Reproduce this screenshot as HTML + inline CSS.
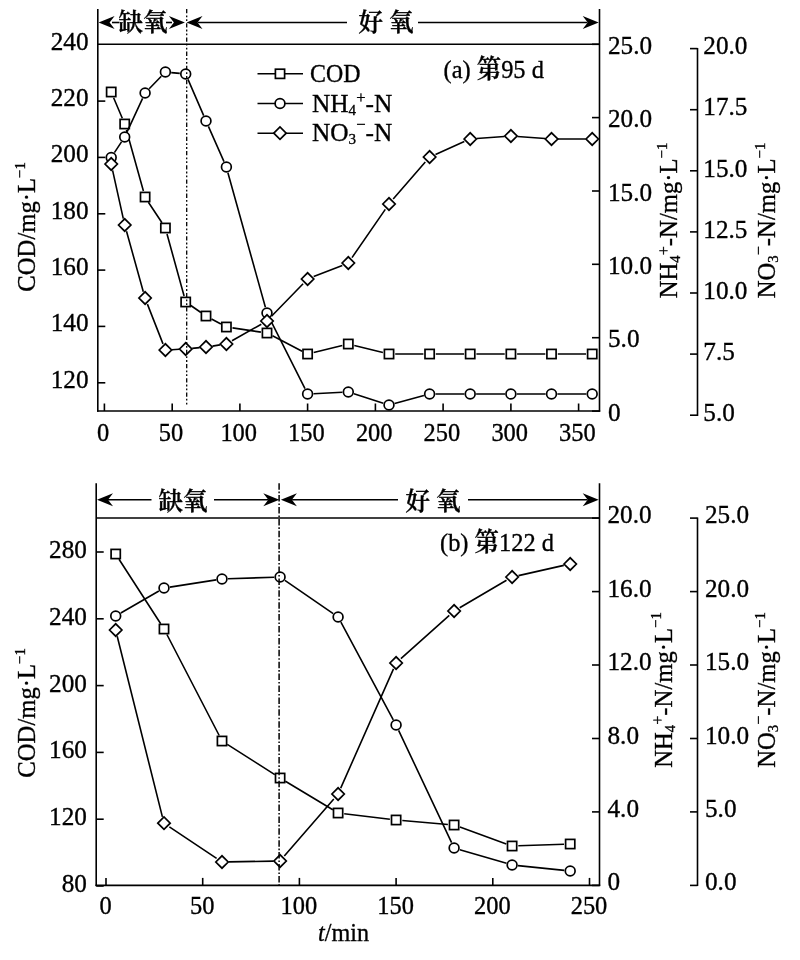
<!DOCTYPE html>
<html lang="zh">
<head>
<meta charset="utf-8">
<title>COD, NH4+-N, NO3--N</title>
<style>
html,body{margin:0;padding:0;background:#fff;}
body{width:800px;height:960px;overflow:hidden;}
svg{display:block;}
text{font-family:"Liberation Serif","Noto Serif CJK SC",serif;fill:#000;stroke:#000;stroke-width:0.35px;}
.cjk{font-family:"Noto Serif CJK SC","Liberation Serif",serif;font-weight:600;}
</style>
</head>
<body>
<svg width="800" height="960" viewBox="0 0 800 960">
<rect width="800" height="960" fill="#fff"/>

<line x1="97.8" y1="9.0" x2="97.8" y2="411.8" stroke="#000" stroke-width="1.6" />
<line x1="599.5" y1="9.0" x2="599.5" y2="411.8" stroke="#000" stroke-width="1.6" />
<line x1="97.0" y1="411.0" x2="600.2" y2="411.0" stroke="#000" stroke-width="1.6" />
<line x1="97.8" y1="44.3" x2="599.5" y2="44.3" stroke="#000" stroke-width="1.6" />
<line x1="697.5" y1="47.9" x2="697.5" y2="416.0" stroke="#000" stroke-width="1.6" />
<line x1="104.4" y1="411.0" x2="104.4" y2="403.5" stroke="#000" stroke-width="1.6" />
<text transform="translate(103.2,441.0) scale(0.94,1)" text-anchor="middle" font-size="26" >0</text>
<line x1="172.2" y1="411.0" x2="172.2" y2="403.5" stroke="#000" stroke-width="1.6" />
<text transform="translate(171.0,441.0) scale(0.94,1)" text-anchor="middle" font-size="26" >50</text>
<line x1="239.9" y1="411.0" x2="239.9" y2="403.5" stroke="#000" stroke-width="1.6" />
<text transform="translate(238.7,441.0) scale(0.94,1)" text-anchor="middle" font-size="26" >100</text>
<line x1="307.6" y1="411.0" x2="307.6" y2="403.5" stroke="#000" stroke-width="1.6" />
<text transform="translate(306.4,441.0) scale(0.94,1)" text-anchor="middle" font-size="26" >150</text>
<line x1="375.4" y1="411.0" x2="375.4" y2="403.5" stroke="#000" stroke-width="1.6" />
<text transform="translate(374.2,441.0) scale(0.94,1)" text-anchor="middle" font-size="26" >200</text>
<line x1="443.1" y1="411.0" x2="443.1" y2="403.5" stroke="#000" stroke-width="1.6" />
<text transform="translate(441.9,441.0) scale(0.94,1)" text-anchor="middle" font-size="26" >250</text>
<line x1="510.9" y1="411.0" x2="510.9" y2="403.5" stroke="#000" stroke-width="1.6" />
<text transform="translate(509.7,441.0) scale(0.94,1)" text-anchor="middle" font-size="26" >300</text>
<line x1="578.6" y1="411.0" x2="578.6" y2="403.5" stroke="#000" stroke-width="1.6" />
<text transform="translate(577.4,441.0) scale(0.94,1)" text-anchor="middle" font-size="26" >350</text>
<line x1="97.8" y1="101.1" x2="105.3" y2="101.1" stroke="#000" stroke-width="1.6" />
<text transform="translate(88.5,106.1) scale(0.97,1)" text-anchor="end" font-size="26" >220</text>
<line x1="97.8" y1="157.4" x2="105.3" y2="157.4" stroke="#000" stroke-width="1.6" />
<text transform="translate(88.5,162.4) scale(0.97,1)" text-anchor="end" font-size="26" >200</text>
<line x1="97.8" y1="213.8" x2="105.3" y2="213.8" stroke="#000" stroke-width="1.6" />
<text transform="translate(88.5,218.8) scale(0.97,1)" text-anchor="end" font-size="26" >180</text>
<line x1="97.8" y1="270.1" x2="105.3" y2="270.1" stroke="#000" stroke-width="1.6" />
<text transform="translate(88.5,275.1) scale(0.97,1)" text-anchor="end" font-size="26" >160</text>
<line x1="97.8" y1="326.4" x2="105.3" y2="326.4" stroke="#000" stroke-width="1.6" />
<text transform="translate(88.5,331.4) scale(0.97,1)" text-anchor="end" font-size="26" >140</text>
<line x1="97.8" y1="382.8" x2="105.3" y2="382.8" stroke="#000" stroke-width="1.6" />
<text transform="translate(88.5,387.8) scale(0.97,1)" text-anchor="end" font-size="26" >120</text>
<line x1="599.5" y1="44.3" x2="592.0" y2="44.3" stroke="#000" stroke-width="1.6" />
<text transform="translate(608.0,54.0) scale(0.97,1)" text-anchor="start" font-size="26" >25.0</text>
<line x1="599.5" y1="117.6" x2="592.0" y2="117.6" stroke="#000" stroke-width="1.6" />
<text transform="translate(608.0,127.3) scale(0.97,1)" text-anchor="start" font-size="26" >20.0</text>
<line x1="599.5" y1="191.0" x2="592.0" y2="191.0" stroke="#000" stroke-width="1.6" />
<text transform="translate(608.0,200.7) scale(0.97,1)" text-anchor="start" font-size="26" >15.0</text>
<line x1="599.5" y1="264.3" x2="592.0" y2="264.3" stroke="#000" stroke-width="1.6" />
<text transform="translate(608.0,274.0) scale(0.97,1)" text-anchor="start" font-size="26" >10.0</text>
<line x1="599.5" y1="337.7" x2="592.0" y2="337.7" stroke="#000" stroke-width="1.6" />
<text transform="translate(608.0,347.4) scale(0.97,1)" text-anchor="start" font-size="26" >5.0</text>
<line x1="599.5" y1="411.1" x2="592.0" y2="411.1" stroke="#000" stroke-width="1.6" />
<text transform="translate(608.0,420.8) scale(0.97,1)" text-anchor="start" font-size="26" >0</text>
<line x1="697.5" y1="48.6" x2="690.0" y2="48.6" stroke="#000" stroke-width="1.6" />
<text transform="translate(703.3,54.3) scale(0.97,1)" text-anchor="start" font-size="26" >20.0</text>
<line x1="697.5" y1="109.7" x2="690.0" y2="109.7" stroke="#000" stroke-width="1.6" />
<text transform="translate(703.3,115.4) scale(0.97,1)" text-anchor="start" font-size="26" >17.5</text>
<line x1="697.5" y1="170.8" x2="690.0" y2="170.8" stroke="#000" stroke-width="1.6" />
<text transform="translate(703.3,176.5) scale(0.97,1)" text-anchor="start" font-size="26" >15.0</text>
<line x1="697.5" y1="231.9" x2="690.0" y2="231.9" stroke="#000" stroke-width="1.6" />
<text transform="translate(703.3,237.6) scale(0.97,1)" text-anchor="start" font-size="26" >12.5</text>
<line x1="697.5" y1="293.0" x2="690.0" y2="293.0" stroke="#000" stroke-width="1.6" />
<text transform="translate(703.3,298.7) scale(0.97,1)" text-anchor="start" font-size="26" >10.0</text>
<line x1="697.5" y1="354.1" x2="690.0" y2="354.1" stroke="#000" stroke-width="1.6" />
<text transform="translate(703.3,359.8) scale(0.97,1)" text-anchor="start" font-size="26" >7.5</text>
<line x1="697.5" y1="415.2" x2="690.0" y2="415.2" stroke="#000" stroke-width="1.6" />
<text transform="translate(703.3,420.9) scale(0.97,1)" text-anchor="start" font-size="26" >5.0</text>
<path d="M113.6,97.7L122.3,118.3M126.4,130.0L143.4,191.0M148.4,202.2L162.0,222.8M167.0,234.0L184.1,296.0M190.8,305.5L200.9,312.5M211.5,319.0L220.9,324.0M232.5,327.9L260.9,332.1M272.5,335.8L302.1,351.2M313.7,352.5L342.3,345.5M354.3,345.5L382.9,352.5M395.2,354.0L423.4,354.0M435.8,354.0L464.1,354.0M476.4,354.0L504.7,354.0M517.1,354.0L545.3,354.0M557.8,354.0L586.0,354.0" fill="none" stroke="#000" stroke-width="1.6"/>
<rect x="106.6" y="87.4" width="9.2" height="9.2" fill="#fff" stroke="#000" stroke-width="1.7"/>
<rect x="120.1" y="119.4" width="9.2" height="9.2" fill="#fff" stroke="#000" stroke-width="1.7"/>
<rect x="140.5" y="192.4" width="9.2" height="9.2" fill="#fff" stroke="#000" stroke-width="1.7"/>
<rect x="160.8" y="223.4" width="9.2" height="9.2" fill="#fff" stroke="#000" stroke-width="1.7"/>
<rect x="181.1" y="297.4" width="9.2" height="9.2" fill="#fff" stroke="#000" stroke-width="1.7"/>
<rect x="201.4" y="311.4" width="9.2" height="9.2" fill="#fff" stroke="#000" stroke-width="1.7"/>
<rect x="221.8" y="322.4" width="9.2" height="9.2" fill="#fff" stroke="#000" stroke-width="1.7"/>
<rect x="262.4" y="328.4" width="9.2" height="9.2" fill="#fff" stroke="#000" stroke-width="1.7"/>
<rect x="303.0" y="349.4" width="9.2" height="9.2" fill="#fff" stroke="#000" stroke-width="1.7"/>
<rect x="343.7" y="339.4" width="9.2" height="9.2" fill="#fff" stroke="#000" stroke-width="1.7"/>
<rect x="384.4" y="349.4" width="9.2" height="9.2" fill="#fff" stroke="#000" stroke-width="1.7"/>
<rect x="425.0" y="349.4" width="9.2" height="9.2" fill="#fff" stroke="#000" stroke-width="1.7"/>
<rect x="465.6" y="349.4" width="9.2" height="9.2" fill="#fff" stroke="#000" stroke-width="1.7"/>
<rect x="506.3" y="349.4" width="9.2" height="9.2" fill="#fff" stroke="#000" stroke-width="1.7"/>
<rect x="546.9" y="349.4" width="9.2" height="9.2" fill="#fff" stroke="#000" stroke-width="1.7"/>
<rect x="587.6" y="349.4" width="9.2" height="9.2" fill="#fff" stroke="#000" stroke-width="1.7"/>
<path d="M114.4,152.6L121.5,141.9M127.2,131.6L142.6,98.4M149.2,88.8L161.3,76.2M171.2,72.6L179.8,73.4M188.0,79.4L203.7,115.6M208.4,126.4L224.0,161.6M227.9,172.7L265.4,307.3M269.6,318.3L305.0,388.7M313.5,393.7L342.4,392.3M353.9,393.8L383.3,403.2M394.6,403.5L423.9,395.5M435.5,394.0L464.4,394.0M476.1,394.0L505.0,394.0M516.8,394.0L545.6,394.0M557.4,394.0L586.3,394.0" fill="none" stroke="#000" stroke-width="1.6"/>
<circle cx="111.2" cy="157.5" r="4.9" fill="#fff" stroke="#000" stroke-width="1.7"/>
<circle cx="124.7" cy="137.0" r="4.9" fill="#fff" stroke="#000" stroke-width="1.7"/>
<circle cx="145.1" cy="93.0" r="4.9" fill="#fff" stroke="#000" stroke-width="1.7"/>
<circle cx="165.4" cy="72.0" r="4.9" fill="#fff" stroke="#000" stroke-width="1.7"/>
<circle cx="185.7" cy="74.0" r="4.9" fill="#fff" stroke="#000" stroke-width="1.7"/>
<circle cx="206.0" cy="121.0" r="4.9" fill="#fff" stroke="#000" stroke-width="1.7"/>
<circle cx="226.4" cy="167.0" r="4.9" fill="#fff" stroke="#000" stroke-width="1.7"/>
<circle cx="267.0" cy="313.0" r="4.9" fill="#fff" stroke="#000" stroke-width="1.7"/>
<circle cx="307.6" cy="394.0" r="4.9" fill="#fff" stroke="#000" stroke-width="1.7"/>
<circle cx="348.3" cy="392.0" r="4.9" fill="#fff" stroke="#000" stroke-width="1.7"/>
<circle cx="389.0" cy="405.0" r="4.9" fill="#fff" stroke="#000" stroke-width="1.7"/>
<circle cx="429.6" cy="394.0" r="4.9" fill="#fff" stroke="#000" stroke-width="1.7"/>
<circle cx="470.2" cy="394.0" r="4.9" fill="#fff" stroke="#000" stroke-width="1.7"/>
<circle cx="510.9" cy="394.0" r="4.9" fill="#fff" stroke="#000" stroke-width="1.7"/>
<circle cx="551.5" cy="394.0" r="4.9" fill="#fff" stroke="#000" stroke-width="1.7"/>
<circle cx="592.2" cy="394.0" r="4.9" fill="#fff" stroke="#000" stroke-width="1.7"/>
<path d="M112.6,170.3L123.3,218.7M126.5,231.3L143.3,291.7M147.4,304.1L163.0,343.9M171.9,349.7L179.2,349.3M192.2,348.4L199.6,347.6M212.5,346.1L219.9,344.9M232.0,340.8L261.3,324.2M271.5,316.3L303.1,283.7M313.7,276.6L342.3,265.4M352.0,257.6L385.3,209.4M393.2,199.1L425.3,161.9M435.5,154.4L464.3,141.6M476.7,138.5L504.4,136.5M517.4,136.5L545.1,138.5M558.0,139.0L585.7,139.0" fill="none" stroke="#000" stroke-width="1.6"/>
<path d="M105.0,164.0 L111.2,157.8 L117.4,164.0 L111.2,170.2 Z" fill="#fff" stroke="#000" stroke-width="1.7"/>
<path d="M118.5,225.0 L124.7,218.8 L130.9,225.0 L124.7,231.2 Z" fill="#fff" stroke="#000" stroke-width="1.7"/>
<path d="M138.9,298.0 L145.1,291.8 L151.2,298.0 L145.1,304.2 Z" fill="#fff" stroke="#000" stroke-width="1.7"/>
<path d="M159.2,350.0 L165.4,343.8 L171.6,350.0 L165.4,356.2 Z" fill="#fff" stroke="#000" stroke-width="1.7"/>
<path d="M179.5,349.0 L185.7,342.8 L191.9,349.0 L185.7,355.2 Z" fill="#fff" stroke="#000" stroke-width="1.7"/>
<path d="M199.8,347.0 L206.0,340.8 L212.2,347.0 L206.0,353.2 Z" fill="#fff" stroke="#000" stroke-width="1.7"/>
<path d="M220.2,344.0 L226.4,337.8 L232.6,344.0 L226.4,350.2 Z" fill="#fff" stroke="#000" stroke-width="1.7"/>
<path d="M260.8,321.0 L267.0,314.8 L273.2,321.0 L267.0,327.2 Z" fill="#fff" stroke="#000" stroke-width="1.7"/>
<path d="M301.4,279.0 L307.6,272.8 L313.8,279.0 L307.6,285.2 Z" fill="#fff" stroke="#000" stroke-width="1.7"/>
<path d="M342.1,263.0 L348.3,256.8 L354.5,263.0 L348.3,269.2 Z" fill="#fff" stroke="#000" stroke-width="1.7"/>
<path d="M382.8,204.0 L389.0,197.8 L395.2,204.0 L389.0,210.2 Z" fill="#fff" stroke="#000" stroke-width="1.7"/>
<path d="M423.4,157.0 L429.6,150.8 L435.8,157.0 L429.6,163.2 Z" fill="#fff" stroke="#000" stroke-width="1.7"/>
<path d="M464.1,139.0 L470.2,132.8 L476.4,139.0 L470.2,145.2 Z" fill="#fff" stroke="#000" stroke-width="1.7"/>
<path d="M504.7,136.0 L510.9,129.8 L517.1,136.0 L510.9,142.2 Z" fill="#fff" stroke="#000" stroke-width="1.7"/>
<path d="M545.3,139.0 L551.5,132.8 L557.8,139.0 L551.5,145.2 Z" fill="#fff" stroke="#000" stroke-width="1.7"/>
<path d="M586.0,139.0 L592.2,132.8 L598.4,139.0 L592.2,145.2 Z" fill="#fff" stroke="#000" stroke-width="1.7"/>
<line x1="186.7" y1="9.0" x2="186.7" y2="405.0" stroke="#000" stroke-width="1.3" stroke-dasharray="4.3 2.1 1.8 2.1 1.8 2.1"/>
<path d="M98.6,22.5 L114.6,16.0 L109.6,22.5 L114.6,29.0 Z" fill="#000"/>
<path d="M184.9,22.5 L168.9,16.0 L173.9,22.5 L168.9,29.0 Z" fill="#000"/>
<path d="M186.5,22.5 L202.5,16.0 L197.5,22.5 L202.5,29.0 Z" fill="#000"/>
<path d="M598.7,22.5 L582.7,16.0 L587.7,22.5 L582.7,29.0 Z" fill="#000"/>
<line x1="112.0" y1="22.5" x2="119.5" y2="22.5" stroke="#000" stroke-width="1.6" />
<line x1="166.0" y1="22.5" x2="172.0" y2="22.5" stroke="#000" stroke-width="1.6" />
<line x1="197.7" y1="22.5" x2="347.0" y2="22.5" stroke="#000" stroke-width="1.6" />
<line x1="418.0" y1="22.5" x2="587.5" y2="22.5" stroke="#000" stroke-width="1.6" />
<text transform="translate(143.0,30.5) scale(1,1)" text-anchor="middle" font-size="24.5" class="cjk">缺氧</text>
<text transform="translate(386.0,30.5) scale(1,1)" text-anchor="middle" font-size="24.5" class="cjk">好 氧</text>
<text transform="translate(443.5,78.0) scale(0.94,1)" text-anchor="start" font-size="26" >(a) <tspan class="cjk" font-weight="400">第</tspan>95 d</text>
<text transform="translate(35.0,227.0) rotate(-90) scale(0.95,1)" text-anchor="middle" font-size="26">COD/mg·L<tspan font-size="15.5" dy="-10.5">−1</tspan></text>
<text transform="translate(677.0,220.5) rotate(-90) scale(0.95,1)" text-anchor="middle" font-size="26">NH<tspan font-size="15.5" dy="3">4</tspan><tspan font-size="17" dy="-11.5">+</tspan><tspan dy="8.5">-N</tspan>/mg·L<tspan font-size="15.5" dy="-10.5">−1</tspan></text>
<text transform="translate(775.0,220.5) rotate(-90) scale(0.95,1)" text-anchor="middle" font-size="26">NO<tspan font-size="15.5" dy="3">3</tspan><tspan font-size="17" dy="-14.5">−</tspan><tspan dy="11.5">-N</tspan>/mg·L<tspan font-size="15.5" dy="-10.5">−1</tspan></text>
<text transform="translate(88.5,49.6) scale(0.97,1)" text-anchor="end" font-size="26" >240</text>
<line x1="257.5" y1="73.8" x2="303.0" y2="73.8" stroke="#000" stroke-width="1.6" />
<rect x="275.4" y="69.2" width="9.2" height="9.2" fill="#fff" stroke="#000" stroke-width="1.7"/>
<text transform="translate(310.0,81.8) scale(0.92,1)" text-anchor="start" font-size="26" >COD</text>
<line x1="257.5" y1="103.5" x2="303.0" y2="103.5" stroke="#000" stroke-width="1.6" />
<circle cx="280.0" cy="103.5" r="4.9" fill="#fff" stroke="#000" stroke-width="1.7"/>
<text transform="translate(312.0,111.5) scale(0.975,1)" text-anchor="start" font-size="26" >NH<tspan font-size="15.5" dy="3">4</tspan><tspan font-size="17" dy="-11.5">+</tspan><tspan dy="8.5">-N</tspan></text>
<line x1="257.5" y1="133.2" x2="303.0" y2="133.2" stroke="#000" stroke-width="1.6" />
<path d="M273.8,133.2 L280.0,127.0 L286.2,133.2 L280.0,139.4 Z" fill="#fff" stroke="#000" stroke-width="1.7"/>
<text transform="translate(312.0,141.2) scale(0.975,1)" text-anchor="start" font-size="26" >NO<tspan font-size="15.5" dy="3">3</tspan><tspan font-size="17" dy="-14.5">−</tspan><tspan dy="11.5">-N</tspan></text>
<line x1="96.2" y1="483.2" x2="96.2" y2="886.1" stroke="#000" stroke-width="1.6" />
<line x1="599.5" y1="483.2" x2="599.5" y2="886.1" stroke="#000" stroke-width="1.6" />
<line x1="95.5" y1="885.4" x2="600.2" y2="885.4" stroke="#000" stroke-width="1.6" />
<line x1="96.2" y1="518.0" x2="599.5" y2="518.0" stroke="#000" stroke-width="1.6" />
<line x1="697.5" y1="517.4" x2="697.5" y2="886.1" stroke="#000" stroke-width="1.6" />
<line x1="106.0" y1="885.4" x2="106.0" y2="877.9" stroke="#000" stroke-width="1.6" />
<text transform="translate(105.5,914.2) scale(0.94,1)" text-anchor="middle" font-size="26" >0</text>
<line x1="202.7" y1="885.4" x2="202.7" y2="877.9" stroke="#000" stroke-width="1.6" />
<text transform="translate(202.2,914.2) scale(0.94,1)" text-anchor="middle" font-size="26" >50</text>
<line x1="299.4" y1="885.4" x2="299.4" y2="877.9" stroke="#000" stroke-width="1.6" />
<text transform="translate(298.9,914.2) scale(0.94,1)" text-anchor="middle" font-size="26" >100</text>
<line x1="396.1" y1="885.4" x2="396.1" y2="877.9" stroke="#000" stroke-width="1.6" />
<text transform="translate(395.6,914.2) scale(0.94,1)" text-anchor="middle" font-size="26" >150</text>
<line x1="492.8" y1="885.4" x2="492.8" y2="877.9" stroke="#000" stroke-width="1.6" />
<text transform="translate(492.3,914.2) scale(0.94,1)" text-anchor="middle" font-size="26" >200</text>
<line x1="589.5" y1="885.4" x2="589.5" y2="877.9" stroke="#000" stroke-width="1.6" />
<text transform="translate(589.0,914.2) scale(0.94,1)" text-anchor="middle" font-size="26" >250</text>
<line x1="96.2" y1="552.0" x2="103.7" y2="552.0" stroke="#000" stroke-width="1.6" />
<text transform="translate(86.9,558.0) scale(0.97,1)" text-anchor="end" font-size="26" >280</text>
<line x1="96.2" y1="618.8" x2="103.7" y2="618.8" stroke="#000" stroke-width="1.6" />
<text transform="translate(86.9,624.8) scale(0.97,1)" text-anchor="end" font-size="26" >240</text>
<line x1="96.2" y1="685.6" x2="103.7" y2="685.6" stroke="#000" stroke-width="1.6" />
<text transform="translate(86.9,691.6) scale(0.97,1)" text-anchor="end" font-size="26" >200</text>
<line x1="96.2" y1="752.4" x2="103.7" y2="752.4" stroke="#000" stroke-width="1.6" />
<text transform="translate(86.9,758.4) scale(0.97,1)" text-anchor="end" font-size="26" >160</text>
<line x1="96.2" y1="819.2" x2="103.7" y2="819.2" stroke="#000" stroke-width="1.6" />
<text transform="translate(86.9,825.2) scale(0.97,1)" text-anchor="end" font-size="26" >120</text>
<line x1="96.2" y1="886.0" x2="103.7" y2="886.0" stroke="#000" stroke-width="1.6" />
<text transform="translate(86.9,892.0) scale(0.97,1)" text-anchor="end" font-size="26" >80</text>
<line x1="599.5" y1="518.1" x2="592.0" y2="518.1" stroke="#000" stroke-width="1.6" />
<text transform="translate(607.5,523.1) scale(0.97,1)" text-anchor="start" font-size="26" >20.0</text>
<line x1="599.5" y1="591.6" x2="592.0" y2="591.6" stroke="#000" stroke-width="1.6" />
<text transform="translate(607.5,596.6) scale(0.97,1)" text-anchor="start" font-size="26" >16.0</text>
<line x1="599.5" y1="665.0" x2="592.0" y2="665.0" stroke="#000" stroke-width="1.6" />
<text transform="translate(607.5,670.0) scale(0.97,1)" text-anchor="start" font-size="26" >12.0</text>
<line x1="599.5" y1="738.5" x2="592.0" y2="738.5" stroke="#000" stroke-width="1.6" />
<text transform="translate(607.5,743.5) scale(0.97,1)" text-anchor="start" font-size="26" >8.0</text>
<line x1="599.5" y1="811.9" x2="592.0" y2="811.9" stroke="#000" stroke-width="1.6" />
<text transform="translate(607.5,816.9) scale(0.97,1)" text-anchor="start" font-size="26" >4.0</text>
<line x1="599.5" y1="885.4" x2="592.0" y2="885.4" stroke="#000" stroke-width="1.6" />
<text transform="translate(607.5,890.4) scale(0.97,1)" text-anchor="start" font-size="26" >0</text>
<line x1="697.5" y1="518.1" x2="690.0" y2="518.1" stroke="#000" stroke-width="1.6" />
<text transform="translate(705.0,523.1) scale(0.97,1)" text-anchor="start" font-size="26" >25.0</text>
<line x1="697.5" y1="591.6" x2="690.0" y2="591.6" stroke="#000" stroke-width="1.6" />
<text transform="translate(705.0,596.6) scale(0.97,1)" text-anchor="start" font-size="26" >20.0</text>
<line x1="697.5" y1="665.0" x2="690.0" y2="665.0" stroke="#000" stroke-width="1.6" />
<text transform="translate(705.0,670.0) scale(0.97,1)" text-anchor="start" font-size="26" >15.0</text>
<line x1="697.5" y1="738.5" x2="690.0" y2="738.5" stroke="#000" stroke-width="1.6" />
<text transform="translate(705.0,743.5) scale(0.97,1)" text-anchor="start" font-size="26" >10.0</text>
<line x1="697.5" y1="811.9" x2="690.0" y2="811.9" stroke="#000" stroke-width="1.6" />
<text transform="translate(705.0,816.9) scale(0.97,1)" text-anchor="start" font-size="26" >5.0</text>
<line x1="697.5" y1="885.4" x2="690.0" y2="885.4" stroke="#000" stroke-width="1.6" />
<text transform="translate(705.0,890.4) scale(0.97,1)" text-anchor="start" font-size="26" >0.0</text>
<path d="M119.0,559.2L160.7,623.8M166.9,634.5L219.2,735.5M227.3,744.3L274.8,774.7M285.4,781.2L332.8,809.8M344.2,813.7L389.9,819.3M402.3,820.5L447.9,824.5M459.9,827.1L506.3,843.9M518.3,845.8L564.0,844.2" fill="none" stroke="#000" stroke-width="1.6"/>
<rect x="111.1" y="549.4" width="9.2" height="9.2" fill="#fff" stroke="#000" stroke-width="1.7"/>
<rect x="159.4" y="624.4" width="9.2" height="9.2" fill="#fff" stroke="#000" stroke-width="1.7"/>
<rect x="217.4" y="736.4" width="9.2" height="9.2" fill="#fff" stroke="#000" stroke-width="1.7"/>
<rect x="275.5" y="773.4" width="9.2" height="9.2" fill="#fff" stroke="#000" stroke-width="1.7"/>
<rect x="333.5" y="808.4" width="9.2" height="9.2" fill="#fff" stroke="#000" stroke-width="1.7"/>
<rect x="391.5" y="815.4" width="9.2" height="9.2" fill="#fff" stroke="#000" stroke-width="1.7"/>
<rect x="449.5" y="820.4" width="9.2" height="9.2" fill="#fff" stroke="#000" stroke-width="1.7"/>
<rect x="507.5" y="841.4" width="9.2" height="9.2" fill="#fff" stroke="#000" stroke-width="1.7"/>
<rect x="565.6" y="839.4" width="9.2" height="9.2" fill="#fff" stroke="#000" stroke-width="1.7"/>
<path d="M120.8,613.0L158.9,591.0M169.9,587.1L216.2,579.9M227.9,578.8L274.2,577.2M284.9,580.3L333.2,613.7M340.9,622.2L393.3,719.8M398.6,730.3L451.6,842.7M459.8,849.7L506.5,863.3M518.0,865.6L564.3,870.4" fill="none" stroke="#000" stroke-width="1.6"/>
<circle cx="115.7" cy="616.0" r="4.9" fill="#fff" stroke="#000" stroke-width="1.7"/>
<circle cx="164.0" cy="588.0" r="4.9" fill="#fff" stroke="#000" stroke-width="1.7"/>
<circle cx="222.0" cy="579.0" r="4.9" fill="#fff" stroke="#000" stroke-width="1.7"/>
<circle cx="280.1" cy="577.0" r="4.9" fill="#fff" stroke="#000" stroke-width="1.7"/>
<circle cx="338.1" cy="617.0" r="4.9" fill="#fff" stroke="#000" stroke-width="1.7"/>
<circle cx="396.1" cy="725.0" r="4.9" fill="#fff" stroke="#000" stroke-width="1.7"/>
<circle cx="454.1" cy="848.0" r="4.9" fill="#fff" stroke="#000" stroke-width="1.7"/>
<circle cx="512.1" cy="865.0" r="4.9" fill="#fff" stroke="#000" stroke-width="1.7"/>
<circle cx="570.2" cy="871.0" r="4.9" fill="#fff" stroke="#000" stroke-width="1.7"/>
<path d="M117.2,636.3L162.4,816.9M169.4,826.8L216.6,858.4M228.5,861.9L273.6,861.1M284.3,856.1L333.8,798.9M340.7,788.1L393.5,668.9M400.9,658.7L449.3,615.3M459.7,607.7L506.5,580.3M518.5,575.6L563.8,565.4" fill="none" stroke="#000" stroke-width="1.6"/>
<path d="M109.5,630.0 L115.7,623.8 L121.9,630.0 L115.7,636.2 Z" fill="#fff" stroke="#000" stroke-width="1.7"/>
<path d="M157.8,823.2 L164.0,817.0 L170.2,823.2 L164.0,829.4 Z" fill="#fff" stroke="#000" stroke-width="1.7"/>
<path d="M215.8,862.0 L222.0,855.8 L228.2,862.0 L222.0,868.2 Z" fill="#fff" stroke="#000" stroke-width="1.7"/>
<path d="M273.9,861.0 L280.1,854.8 L286.3,861.0 L280.1,867.2 Z" fill="#fff" stroke="#000" stroke-width="1.7"/>
<path d="M331.9,794.0 L338.1,787.8 L344.3,794.0 L338.1,800.2 Z" fill="#fff" stroke="#000" stroke-width="1.7"/>
<path d="M389.9,663.0 L396.1,656.8 L402.3,663.0 L396.1,669.2 Z" fill="#fff" stroke="#000" stroke-width="1.7"/>
<path d="M447.9,611.0 L454.1,604.8 L460.3,611.0 L454.1,617.2 Z" fill="#fff" stroke="#000" stroke-width="1.7"/>
<path d="M505.9,577.0 L512.1,570.8 L518.3,577.0 L512.1,583.2 Z" fill="#fff" stroke="#000" stroke-width="1.7"/>
<path d="M564.0,564.0 L570.2,557.8 L576.4,564.0 L570.2,570.2 Z" fill="#fff" stroke="#000" stroke-width="1.7"/>
<line x1="279.1" y1="483.2" x2="279.1" y2="885.0" stroke="#000" stroke-width="1.5" stroke-dasharray="6.5 1.9 1.6 1.9"/>
<path d="M97.0,499.8 L113.0,493.3 L108.0,499.8 L113.0,506.3 Z" fill="#000"/>
<path d="M279.3,499.8 L263.3,493.3 L268.3,499.8 L263.3,506.3 Z" fill="#000"/>
<path d="M280.9,499.8 L296.9,493.3 L291.9,499.8 L296.9,506.3 Z" fill="#000"/>
<path d="M598.7,499.8 L582.7,493.3 L587.7,499.8 L582.7,506.3 Z" fill="#000"/>
<line x1="108.0" y1="499.8" x2="151.5" y2="499.8" stroke="#000" stroke-width="1.6" />
<line x1="214.0" y1="499.8" x2="268.1" y2="499.8" stroke="#000" stroke-width="1.6" />
<line x1="292.1" y1="499.8" x2="398.0" y2="499.8" stroke="#000" stroke-width="1.6" />
<line x1="468.0" y1="499.8" x2="587.5" y2="499.8" stroke="#000" stroke-width="1.6" />
<text transform="translate(183.0,509.8) scale(1,1)" text-anchor="middle" font-size="24.5" class="cjk">缺氧</text>
<text transform="translate(433.0,509.8) scale(1,1)" text-anchor="middle" font-size="24.5" class="cjk">好 氧</text>
<text transform="translate(440.0,551.0) scale(0.94,1)" text-anchor="start" font-size="26" >(b) <tspan class="cjk" font-weight="400">第</tspan>122 d</text>
<text transform="translate(35.0,713.0) rotate(-90) scale(0.95,1)" text-anchor="middle" font-size="26">COD/mg·L<tspan font-size="15.5" dy="-10.5">−1</tspan></text>
<text transform="translate(671.7,690.0) rotate(-90) scale(0.95,1)" text-anchor="middle" font-size="26">NH<tspan font-size="15.5" dy="3">4</tspan><tspan font-size="17" dy="-11.5">+</tspan><tspan dy="8.5">-N</tspan>/mg·L<tspan font-size="15.5" dy="-10.5">−1</tspan></text>
<text transform="translate(775.0,690.0) rotate(-90) scale(0.95,1)" text-anchor="middle" font-size="26">NO<tspan font-size="15.5" dy="3">3</tspan><tspan font-size="17" dy="-14.5">−</tspan><tspan dy="11.5">-N</tspan>/mg·L<tspan font-size="15.5" dy="-10.5">−1</tspan></text>
<text transform="translate(343.5,941.0) scale(0.93,1)" text-anchor="middle" font-size="26" ><tspan font-style="italic">t</tspan>/min</text>
</svg>
</body>
</html>
